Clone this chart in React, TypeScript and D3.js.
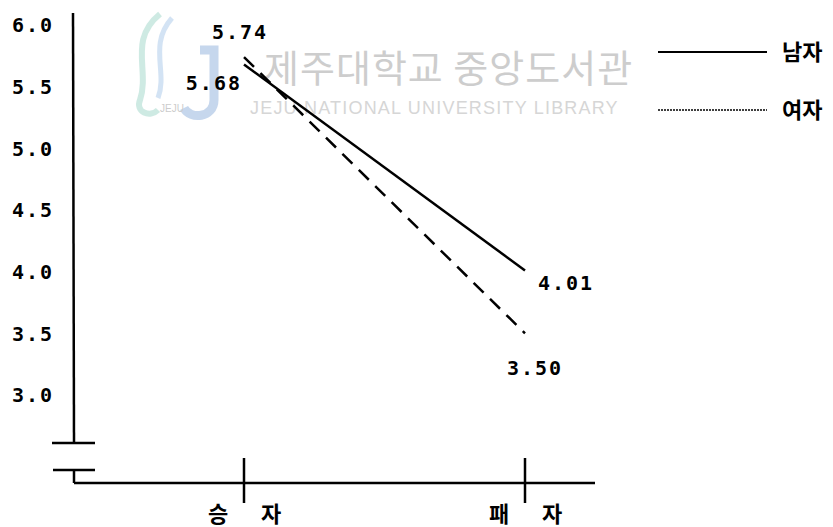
import * as d3 from "d3";
import React from "react";

// categories and series
const categories = ["승자", "패자"];
const seriesNames = ["남자", "여자"];
const maleValues = [5.68, 4.01];
const femaleValues = [5.74, 3.5];
const yTicks = [6.0, 5.5, 5.0, 4.5, 4.0, 3.5, 3.0];
const watermarkTitle = "제주대학교 중앙도서관";
const watermarkSub = "JEJU NATIONAL UNIVERSITY LIBRARY";

const W = 833;
const H = 527;
const axisX = 74;
const axisY = 483;
const breakTop = 443;
const breakBottom = 470;

const monoFont = "'DejaVu Sans Mono', 'Liberation Mono', monospace";
const korFont = "'Noto Sans CJK KR', 'Noto Sans', sans-serif";

// label offsets [start, end] for each series, relative to the point
const labelOffsets: { dx: number; dy: number; anchor: string }[][] = [
  [
    { dx: -2, dy: 18, anchor: "end" },
    { dx: 13, dy: 12, anchor: "start" },
  ],
  [
    { dx: -32, dy: -25, anchor: "start" },
    { dx: -18, dy: 34, anchor: "start" },
  ],
];

const App = () => {
  const x = d3.scalePoint<string>().domain(categories).range([244, 525]);
  const y = d3.scaleLinear().domain([3, 6]).range([395, 25]);

  const line = d3
    .line<number>()
    .x((_, i) => x(categories[i]) as number)
    .y((d) => y(d));

  const series = [
    { name: seriesNames[0], values: maleValues, dash: undefined },
    { name: seriesNames[1], values: femaleValues, dash: "14,9" },
  ];

  return (
    <div style={{ position: "absolute", left: 0, top: 0 }}>
      <svg width={W} height={H} style={{ display: "block", background: "#fff" }}>
        {/* watermark from the scan */}
        <g opacity={0.5}>
          <path d="M160,14 C128,40 150,70 140,100 C135,112 150,118 158,110" fill="none" stroke="#9fd6c9" strokeWidth={6} />
          <path d="M172,18 C148,45 168,72 158,98" fill="none" stroke="#a9c8ea" strokeWidth={5} />
          <path d="M200,50 L214,50 L214,100 C214,118 190,120 184,108" fill="none" stroke="#8fb0dc" strokeWidth={9} />
          <text x={160} y={112} fontFamily="'Liberation Sans', sans-serif" fontSize={10} fill="#999">JEJU</text>
        </g>
        <text x={264} y={82} fontFamily={korFont} fontSize={38} fill="#cdcdcd" letterSpacing={1}>
          {watermarkTitle}
        </text>
        <text x={250} y={114} fontFamily="'Liberation Sans', 'DejaVu Sans', sans-serif" fontSize={18} fill="#d6d6d6" letterSpacing={1.2}>
          {watermarkSub}
        </text>

        {/* y axis with break */}
        <g stroke="#000" strokeWidth={2.5} fill="none">
          <line x1={axisX - 1} y1={13} x2={axisX} y2={breakTop} />
          <line x1={52} y1={breakTop} x2={95} y2={breakTop} />
          <line x1={53} y1={breakBottom} x2={95} y2={breakBottom} />
          <line x1={axisX} y1={breakBottom} x2={axisX} y2={axisY} />
          <line x1={axisX} y1={axisY} x2={595} y2={axisY} />
          {categories.map((c) => (
            <line key={c} x1={x(c)} y1={458} x2={x(c)} y2={503} />
          ))}
        </g>

        {yTicks.map((t) => (
          <text
            key={t}
            x={12}
            y={y(t)}
            dy="0.36em"
            fontFamily={monoFont}
            fontWeight="bold"
            fontSize={20}
            letterSpacing={2}
          >
            {t.toFixed(1)}
          </text>
        ))}

        {categories.map((c) => (
          <g key={c} fontFamily={korFont} fontWeight="bold" fontSize={22} textAnchor="middle">
            <text x={(x(c) as number) - 26} y={514} dy="0.35em">{c[0]}</text>
            <text x={(x(c) as number) + 27} y={514} dy="0.35em">{c[1]}</text>
          </g>
        ))}

        {series.map((s, si) => (
          <g key={s.name}>
            <path d={line(s.values) || undefined} fill="none" stroke="#000" strokeWidth={2.5} strokeDasharray={s.dash} />
            {s.values.map((v, i) => {
              const o = labelOffsets[si][i];
              return (
                <text
                  key={i}
                  x={(x(categories[i]) as number) + o.dx}
                  y={y(v) + o.dy}
                  dy="0.36em"
                  textAnchor={o.anchor}
                  fontFamily={monoFont}
                  fontWeight="bold"
                  fontSize={20}
                  letterSpacing={2}
                >
                  {v.toFixed(2)}
                </text>
              );
            })}
          </g>
        ))}

        {/* legend */}
        {seriesNames.map((n, i) => (
          <g key={n} transform={`translate(658, ${52 + i * 58})`}>
            {i === 0 ? (
              <line x1={0} y1={0} x2={109} y2={0} stroke="#000" strokeWidth={2.2} />
            ) : (
              <line x1={0} y1={0} x2={109} y2={0} stroke="#000" strokeWidth={1.3} strokeDasharray="2,1" />
            )}
            <text x={124} y={0} dy="0.36em" fontFamily={korFont} fontWeight="bold" fontSize={22}>
              {n}
            </text>
          </g>
        ))}
      </svg>
    </div>
  );
};

export default App;
